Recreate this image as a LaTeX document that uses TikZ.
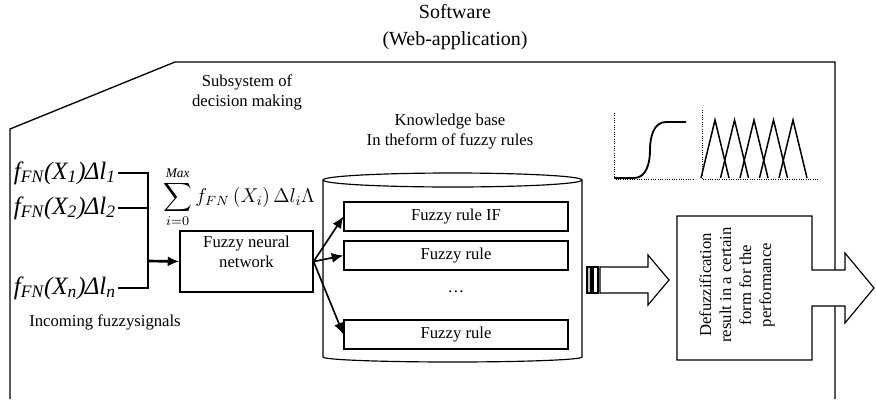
\documentclass[tikz,border=0pt]{standalone}
\usepackage{amsmath}
\usepackage{fontspec}
\setmainfont{Liberation Serif}
\usetikzlibrary{arrows.meta,positioning,calc}

\newcommand{\sigtext}[2]{\itshape f\textsubscript{FN}(X\textsubscript{#1})\kern-0.5pt Δl\textsubscript{#2}}

\begin{document}
\begin{tikzpicture}[x=0.6pt,y=-0.6pt, every node/.style={align=center,font=\fontsize{10}{12}\selectfont}, >={Latex[length=7pt,width=6pt]},
  rulebox/.style={draw,line width=0.7pt,minimum width=134.4pt,minimum height=17.4pt,inner sep=0pt},
  sig/.style={font=\fontsize{15}{18}\selectfont,anchor=east,inner sep=1pt},
  wire/.style={line width=1.1pt}]
\useasboundingbox (0,0) rectangle (876,399);
\draw[line width=0.8pt] (10,399) -- (10,129) -- (175,62) -- (835,62) -- (835,399);
\node[font=\fontsize{12}{16}\selectfont] (sw) at (455,27) {Software\\(Web-application)};
\node (sub) at (247,92) {Subsystem of\\decision making};
\node (kb) at (450,132) {Knowledge base\\In theform of fuzzy rules};
\draw[line width=0.7pt] (452.5,180) ellipse [x radius=129.5, y radius=7];
\draw[line width=0.7pt] (323,180) -- (323,357) arc[start angle=180, end angle=0, x radius=129.5, y radius=5] -- (582,180);
\node[rulebox] (r1) at (456,216.5) {Fuzzy rule IF};
\node[rulebox] (r2) at (456,255.5) {Fuzzy rule};
\node (dots) at (456,292) {\dots};
\node[rulebox] (r3) at (456,334.5) {Fuzzy rule};
\node[draw,line width=0.7pt,minimum width=79.8pt,minimum height=36.6pt,
  label={[anchor=north,inner sep=3pt,align=center]north:Fuzzy neural\\network}] (fnn) at (246.5,261.5) {};
\node[font=\fontsize{12}{14}\selectfont,inner sep=0pt] (sum) at (239,197) {$\displaystyle\sum_{i=0}^{\mathit{Max}} f_{FN}\,(X_i)\,\Delta l_i\Lambda$};
\node[sig] (x1) at (118,173) {\sigtext{1}{1}};
\node[sig] (x2) at (118,208) {\sigtext{2}{2}};
\node[sig] (xn) at (118,288) {\sigtext{n}{n}};
\node (inc) at (105,322) {Incoming fuzzysignals};
\coordinate (jn) at (148,261);
\draw[wire] (x1.east) -| (jn);
\draw[wire] (xn.east) -| (jn);
\draw[wire] (x2.east) -- (x2.east -| jn);
\draw[->,line width=1.6pt] (jn) -- (fnn.west);
\draw[->,line width=1pt] (fnn.east) -- (r1.west);
\draw[->,line width=1pt] (fnn.east) -- (r2.west);
\draw[->,line width=1pt] (fnn.east) -- (r3.west);
\draw[densely dotted] (614,113) -- (614,179) -- (695,179);
\draw[line width=1.1pt] (614,178) -- (634,178) to[out=0,in=-90] (650,150) to[out=90,in=180] (666,122) -- (686,122);
\draw[densely dotted] (702,110) -- (702,179) -- (818,179);
\foreach \p in {715,734.5,754,773.5,793}
  \draw[line width=0.9pt] (\p-14,178) -- (\p,120) -- (\p+14,178);
\draw[line width=0.7pt,fill=gray!50] (587,267) rectangle (591,293);
\draw[line width=0.7pt] (593,267) rectangle (598,293);
\draw[line width=0.7pt] (600,267) -- (648,267) -- (648,255) -- (669,280) -- (648,305) -- (648,293) -- (600,293) -- cycle;
\draw[line width=0.7pt,fill=white] (677,216) -- (812,216) -- (812,270) -- (845,270) -- (845,253) -- (874,288) -- (845,323) -- (845,306) -- (812,306) -- (812,360) -- (677,360) -- cycle;
\node[rotate=90] (dfz) at (737,285) {Defuzzification\\result in a certain\\form for the\\performance};
\end{tikzpicture}
\end{document}
